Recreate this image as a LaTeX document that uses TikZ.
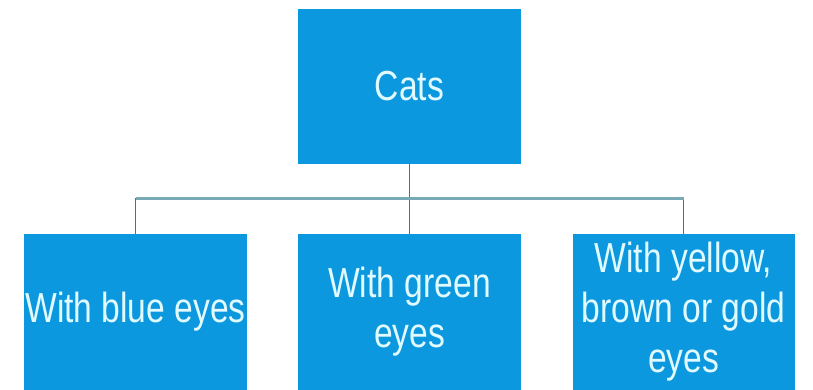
\documentclass[tikz,border=0pt]{standalone}
\usepackage{fontspec}
\newfontfamily\boxfont[FakeStretch=0.8]{Liberation Sans}
\definecolor{boxblue}{RGB}{12,152,222}
\definecolor{boxtext}{RGB}{225,250,255}
\definecolor{barline}{RGB}{120,170,182}
\definecolor{stemline}{RGB}{95,108,115}
\begin{document}
\begin{tikzpicture}[x=1pt,y=-1pt,
  catbox/.style={rectangle, fill=boxblue, draw=none, inner sep=0pt,
    minimum width=223pt, minimum height=155pt, align=center,
    text=boxtext, font=\boxfont\fontsize{42}{50}\selectfont},
  stem/.style={draw=stemline, line width=1.3pt},
  bar/.style={draw=barline, line width=3pt}]
\useasboundingbox (0,0) rectangle (813,389);
\node[catbox] (cats) at (409.5,86.5) {Cats};
\node[catbox, minimum height=156pt] (blue) at (135.5,312) {With blue eyes};
\node[catbox, minimum height=156pt] (green) at (409.5,312) {With green\\eyes};
\node[catbox, minimum width=222pt, minimum height=156pt] (yellow) at (683.5,312) {With yellow,\\brown or gold\\eyes};
\coordinate (split) at (409.5,198);
\draw[stem] (cats.south) -- (split) -- (green.north);
\draw[stem] (blue.north) -- (blue.north |- split);
\draw[stem] (yellow.north) -- (yellow.north |- split);
\draw[bar] (blue.north |- split) -- (yellow.north |- split);
\end{tikzpicture}
\end{document}
